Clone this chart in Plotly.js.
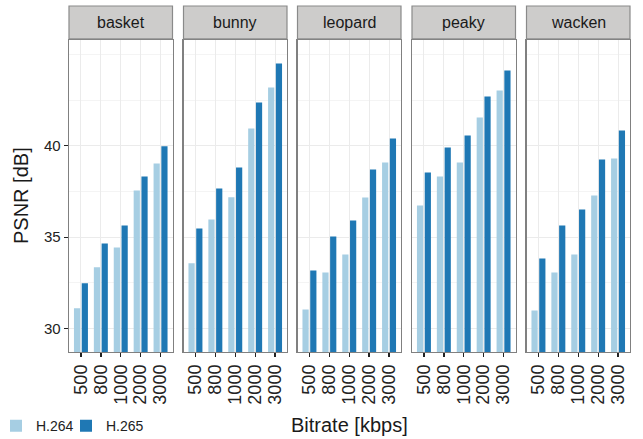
<!DOCTYPE html>
<html>
<head>
<meta charset="utf-8">
<script src="https://cdn.plot.ly/plotly-3.0.1.min.js"></script>
<style>html,body{margin:0;padding:0;background:#fff;}#chart{width:643px;height:439px;}</style>
</head>
<body>
<div id="chart"></div>
<script>
const bitrates = ['500', '800', '1000', '2000', '3000'];
const videos = ['basket', 'bunny', 'leopard', 'peaky', 'wacken'];
const codecs = ['H.264', 'H.265'];
const basketH264 = [31.11, 33.35, 34.44, 37.56, 39.03];
const basketH265 = [32.48, 34.66, 35.64, 38.32, 39.98];
const bunnyH264 = [33.57, 35.97, 37.18, 40.95, 43.19];
const bunnyH265 = [35.48, 37.67, 38.81, 42.37, 44.50];
const leopardH264 = [31.04, 33.07, 34.05, 37.17, 39.09];
const leopardH265 = [33.18, 35.04, 35.91, 38.70, 40.40];
const peakyH264 = [36.73, 38.32, 39.09, 41.55, 43.03];
const peakyH265 = [38.54, 39.91, 40.57, 42.70, 44.12];
const wackenH264 = [30.99, 33.07, 34.05, 37.28, 39.31];
const wackenH265 = [33.83, 35.64, 36.51, 39.25, 40.84];
const yTickVals = [30, 35, 40];

const seriesH264 = [basketH264, bunnyH264, leopardH264, peakyH264, wackenH264];
const seriesH265 = [basketH265, bunnyH265, leopardH265, peakyH265, wackenH265];
const colors = ['#a6cee3', '#1f78b4'];

const W = 643, L = 69, R = 13, T = 40, B = 87;
const pw = W - L - R;
const panelPx = [[69, 172.5], [183.5, 287], [297.5, 401], [412, 515.5], [526.5, 630]];
const domains = panelPx.map(p => [(p[0] - L) / pw, (p[1] - L) / pw]);

const font = 'Liberation Sans, Arial, sans-serif';
const legendBase = {orientation: 'h', xanchor: 'left', y: -0.238, yanchor: 'middle',
  font: {size: 14, color: '#222'}, itemwidth: 30, bgcolor: 'rgba(0,0,0,0)'};
const traces = [];
const layout = {
  width: 643, height: 439,
  margin: {l: L, r: R, t: T, b: B, pad: 0, autoexpand: false},
  paper_bgcolor: '#fff', plot_bgcolor: '#fff',
  barmode: 'group', bargap: 0.22, bargroupgap: 0.2,
  font: {family: font, color: '#222'},
  showlegend: true,
  legend: Object.assign({}, legendBase, {x: (-4 - L) / pw}),
  legend2: Object.assign({}, legendBase, {x: (66 - L) / pw}),
  shapes: [], annotations: []
};

videos.forEach((v, i) => {
  const n = i === 0 ? '' : String(i + 1);
  [seriesH264[i], seriesH265[i]].forEach((vals, k) => {
    traces.push({
      type: 'bar', x: bitrates, y: vals, name: codecs[k],
      xaxis: 'x' + n, yaxis: 'y' + n,
      marker: {color: colors[k], line: {width: 0}},
      showlegend: i === 0, legend: k === 0 ? 'legend' : 'legend2',
      legendgroup: codecs[k], hoverinfo: 'skip'
    });
  });
  layout['xaxis' + n] = {
    domain: domains[i], anchor: 'y' + n, type: 'category',
    range: [-0.6, 4.6], fixedrange: true, automargin: false,
    tickmode: 'array', tickvals: bitrates, ticktext: bitrates,
    showgrid: true, gridcolor: '#ebebeb', gridwidth: 1.1,
    showline: true, mirror: true, linecolor: '#808080', linewidth: 1.4,
    ticks: 'outside', ticklen: 4, tickwidth: 1.3, tickcolor: '#222',
    tickangle: -90, tickfont: {size: 18, color: '#222'},
    zeroline: false
  };
  layout['yaxis' + n] = {
    domain: [0, 1], anchor: 'x' + n, automargin: false,
    range: [28.72, 45.79], fixedrange: true,
    tickmode: 'array', tickvals: yTickVals, ticktext: yTickVals.map(String),
    showticklabels: i === 0,
    ticks: i === 0 ? 'outside' : '', ticklen: 4, tickwidth: 1.3, tickcolor: '#222',
    tickfont: {size: 15, color: '#222'},
    showgrid: true, gridcolor: '#ebebeb', gridwidth: 1.1,
    minor: {dtick: 2.5, tick0: 0, showgrid: true, gridcolor: '#f4f4f4', gridwidth: 1},
    showline: true, mirror: true, linecolor: '#808080', linewidth: 1.4,
    zeroline: false
  };
  layout.shapes.push({
    type: 'rect', xref: 'paper', yref: 'paper',
    x0: domains[i][0], x1: domains[i][1], y0: 1.004, y1: 1 + 34 / 312,
    fillcolor: '#cdcccb', line: {color: '#8a8a8a', width: 1.2}, layer: 'above'
  });
  layout.annotations.push({
    xref: 'paper', yref: 'paper', x: (domains[i][0] + domains[i][1]) / 2, y: 1 + 17.5 / 312,
    text: v, showarrow: false, xanchor: 'center', yanchor: 'middle',
    font: {size: 16, color: '#1a1a1a'}
  });
});

layout.annotations.push({
  xref: 'paper', yref: 'paper', x: 0.5, y: (352 - 425) / 312, xanchor: 'center', yanchor: 'middle',
  text: 'Bitrate [kbps]', showarrow: false, font: {size: 20, color: '#1a1a1a'}
});
layout.annotations.push({
  xref: 'paper', yref: 'paper', x: (21 - L) / pw, y: 0.5, xanchor: 'center', yanchor: 'middle',
  text: 'PSNR [dB]', showarrow: false, textangle: -90, font: {size: 20, color: '#1a1a1a'}
});

Plotly.newPlot('chart', traces, layout, {staticPlot: true, displayModeBar: false});
</script>
</body>
</html>
